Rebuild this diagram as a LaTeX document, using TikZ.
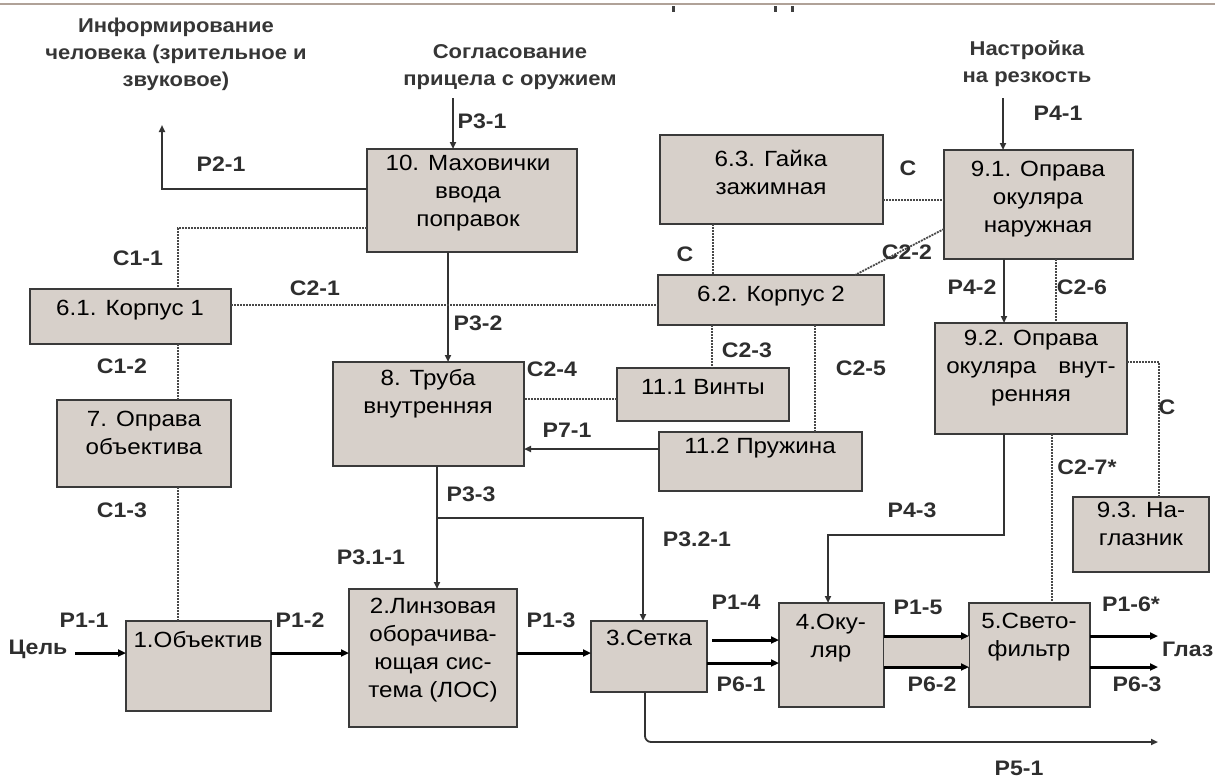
\documentclass[tikz,border=0pt]{standalone}
\usepackage{fontspec}
\setmainfont{Liberation Sans}[FakeStretch=1.1]
\usetikzlibrary{arrows.meta}
\definecolor{boxfill}{HTML}{D7D0CA}
\definecolor{boxborder}{HTML}{3A3A3A}
\definecolor{lbl}{HTML}{2E2E2E}
\definecolor{ttl}{HTML}{363636}
\definecolor{dotc}{HTML}{484848}
\definecolor{topc}{HTML}{B0A298}
\newcommand\mkbox[5]{\node[box, anchor=north west, minimum width={(#4-#2)*1pt}, minimum height={(#5-#3)*1pt}] (#1) at (#2,#3) {};}
\tikzset{
  box/.style={draw=boxborder, fill=boxfill, line width=1.8pt, inner sep=0pt, outer sep=0pt},
  btxt/.style={align=center, inner sep=0pt, text=black, font=\fontsize{22}{28}\selectfont},
  lab/.style={inner sep=0pt, text=lbl, font=\fontsize{21}{24}\selectfont\bfseries},
  ttlab/.style={align=center, inner sep=0pt, text=ttl, font=\fontsize{20}{27}\selectfont\bfseries},
  thin/.style={draw=black!80, line width=1.8pt, -{Triangle[length=7pt,width=6pt]}},
  thick/.style={draw=black, line width=3pt, -{Triangle[length=8pt,width=7pt]}},
  dotl/.style={draw=dotc, line width=1.8pt, dash pattern=on 2pt off 1pt},
}
\begin{document}
\begin{tikzpicture}[x=1pt,y=-1pt]
\useasboundingbox (0,0) rectangle (1215,780);
% top rule and marks
\draw[topc, line width=2pt] (0,4) -- (1215,4);
\fill[black!75] (672,6) rectangle (675,12);
\fill[black!75] (774,6) rectangle (777,12);
\fill[black!75] (791,6) rectangle (794,12);

% boxes
\mkbox{b10}{367}{149}{577}{252}
\mkbox{b63}{660}{135}{883}{224}
\mkbox{b91}{944}{150}{1133}{259}
\mkbox{b61}{30}{289}{231}{344}
\mkbox{b62}{658}{275}{884}{325}
\mkbox{b7}{57}{400}{231}{487}
\mkbox{b8}{333}{362}{524}{466}
\mkbox{b111}{617}{368}{789}{421}
\mkbox{b112}{659}{432}{862}{491}
\mkbox{b92}{935}{323}{1127}{434}
\mkbox{b93}{1073}{497}{1209}{572}
\mkbox{b1}{126}{621}{271}{711}
\mkbox{b2}{349}{589}{517}{727}
\mkbox{b3}{591}{621}{707}{692}
\mkbox{b4}{779}{603}{884}{707}
\mkbox{b5}{969}{603}{1090}{707}

% box texts
\node[btxt] (t10) at (468,193) {10. Маховички\\ввода\\поправок};
\node[btxt] (t63) at (771,172) {6.3. Гайка\\зажимная};
\node[btxt] (t91) at (1038,199) {9.1. Оправа\\окуляра\\наружная};
\node[btxt] (t61) at (130,310) {6.1. Корпус 1};
\node[btxt] (t62) at (771,296) {6.2. Корпус 2};
\node[btxt] (t7) at (144,433) {7. Оправа\\объектива};
\node[btxt] (t8) at (428,394) {8. Труба\\внутренняя};
\node[btxt] (t111) at (703,387) {11.1 Винты};
\node[btxt] (t112) at (760,448) {11.2 Пружина};
\node[btxt] (t92) at (1031,368) {9.2. Оправа\\окуляра\quad внут-\\ренняя};
\node[btxt] (t93) at (1141,524) {9.3. На-\\глазник};
\node[btxt] (t1) at (198,640) {1.Объектив};
\node[btxt] (t2) at (433,650) {2.Линзовая\\оборачива-\\ющая сис-\\тема (ЛОС)};
\node[btxt] (t3) at (649,638) {3.Сетка};
\node[btxt] (t4) at (831,638) {4.Оку-\\ляр};
\node[btxt] (t5) at (1029,637) {5.Свето-\\фильтр};

% titles
\node[ttlab] (ti1) at (176,54) {Информирование\\человека (зрительное и\\звуковое)};
\node[ttlab] (ti2) at (510,67) {Согласование\\прицела с оружием};
\node[ttlab] (ti3) at (1027,64) {Настройка\\на резкость};
\node[lab] (cel) at (38,649) {Цель};
\node[lab, anchor=west] (glaz) at (1162,649) {Глаз};

% free ends
\coordinate (celo) at (75,653);
\coordinate (p31s) at (453,98);
\coordinate (p21e) at (162,125);
\coordinate (p41s) at (1003,98);
\coordinate (j33) at (437,518);
\coordinate (k43) at (828,535);
\coordinate (e16) at (1158,636);
\coordinate (e63) at (1158,667);
\coordinate (e51) at (1158,742);

% solid connectors
\draw[thin] (p31s) -- (p31s |- b10.north);
\draw[thin] (b10.west |- 0,189) -| (p21e);
\draw[thin] (448,0 |- b10.south) -- (448,0 |- b8.north);
\draw[thin] (p41s) -- (p41s |- b91.north);
\draw[thin] (1004,0 |- b91.south) -- (1004,0 |- b92.north);
\draw[thin] (b112.west |- 0,449) -- (b8.east |- 0,449);
\draw[thin] (1004,0 |- b92.south) |- (k43) -- (k43 |- b4.north);
\draw[thin] (437,0 |- b8.south) -- (437,0 |- b2.north);
\draw[thin] (j33) -| (643,0 |- b3.north);
\draw[thin, rounded corners=6pt] (645,0 |- b3.south) |- (e51);

% main flow
\fill[boxfill] (b4.east |- 0,636) rectangle (b5.west |- 0,667);
\draw[thick] (celo) -- (b1.west |- celo);
\draw[thick] (b1.east |- 0,653) -- (b2.west |- 0,653);
\draw[thick] (b2.east |- 0,653) -- (b3.west |- 0,653);
\draw[thick] (712,640) -- (b4.west |- 0,640);
\draw[thick] (b3.east |- 0,663) -- (b4.west |- 0,663);
\draw[thick] (b4.east |- 0,636) -- (b5.west |- 0,636);
\draw[thick] (b4.east |- 0,667) -- (b5.west |- 0,667);
\draw[thick] (b5.east |- 0,636) -- (e16);
\draw[thick] (b5.east |- 0,667) -- (e63);

% dotted connections
\draw[dotl] (b10.west |- 0,228) -| (178,0 |- b61.north);
\draw[dotl] (b61.east |- 0,305) -- (b62.west |- 0,305);
\draw[dotl] (178,0 |- b61.south) -- (178,0 |- b7.north);
\draw[dotl] (178,0 |- b7.south) -- (178,0 |- b1.north);
\draw[dotl] (b63.east |- 0,200) -- (b91.west |- 0,200);
\draw[dotl] (713,0 |- b63.south) -- (713,0 |- b62.north);
\draw[dotl] (b91.west |- 0,229) -- (855,0 |- b62.north);
\draw[dotl] (1056,0 |- b91.south) -- (1056,0 |- b92.north);
\draw[dotl] (712,0 |- b62.south) -- (712,0 |- b111.north);
\draw[dotl] (815,0 |- b62.south) -- (815,0 |- b112.north);
\draw[dotl] (b111.west |- 0,399) -- (b8.east |- 0,399);
\draw[dotl] (b92.east |- 0,362) -| (1159,0 |- b93.north);
\draw[dotl] (1052,0 |- b92.south) -- (1052,0 |- b5.north);

% labels
\node[lab] (lP31) at (482,121) {P3-1};
\node[lab] (lP21) at (221,164) {P2-1};
\node[lab] (lC11) at (138,258) {C1-1};
\node[lab] (lC21) at (315,288) {C2-1};
\node[lab] (lC12) at (122,366) {C1-2};
\node[lab] (lC13) at (122,510) {C1-3};
\node[lab] (lP32) at (478,323) {P3-2};
\node[lab] (lC24) at (552,369) {C2-4};
\node[lab] (lC23) at (747,350) {C2-3};
\node[lab] (lP71) at (567,430) {P7-1};
\node[lab] (lC25) at (861,368) {C2-5};
\node[lab] (lP33) at (471,494) {P3-3};
\node[lab] (lP321) at (697,539) {P3.2-1};
\node[lab] (lP311) at (371,557) {P3.1-1};
\node[lab] (lP11) at (84,620) {P1-1};
\node[lab] (lP12) at (300,620) {P1-2};
\node[lab] (lP13) at (551,620) {P1-3};
\node[lab] (lP14) at (736,602) {P1-4};
\node[lab] (lP61) at (741,684) {P6-1};
\node[lab] (lP43) at (912,510) {P4-3};
\node[lab] (lP15) at (918,607) {P1-5};
\node[lab] (lP62) at (932,684) {P6-2};
\node[lab] (lP16) at (1131,604) {P1-6*};
\node[lab] (lP63) at (1137,684) {P6-3};
\node[lab] (lP51) at (1019,768) {P5-1};
\node[lab] (lP41) at (1058,113) {P4-1};
\node[lab] (lCa) at (908,168) {C};
\node[lab] (lC22) at (907,252) {C2-2};
\node[lab] (lP42) at (972,287) {P4-2};
\node[lab] (lC26) at (1082,287) {C2-6};
\node[lab] (lCb) at (685,254) {C};
\node[lab] (lCc) at (1167,407) {C};
\node[lab] (lC27) at (1087,467) {C2-7*};
\end{tikzpicture}
\end{document}
